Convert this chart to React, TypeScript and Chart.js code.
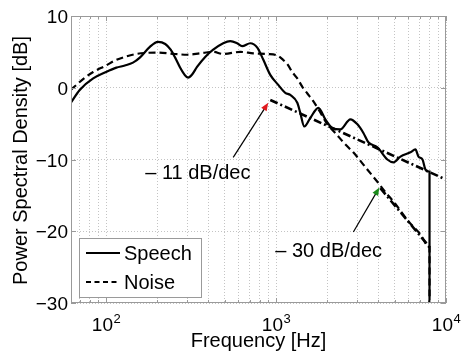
import { useEffect, useRef } from "react";
import { Chart, registerables } from "chart.js";

Chart.register(...registerables);

// Power spectral density of a speech signal and of the noise, in dB versus Hz
const speechFreq = [
  62, 70, 84, 100, 115, 129, 144, 158, 181, 202, 223, 240, 255, 273, 290, 304, 320, 343, 383, 427,
  489, 538, 591, 632, 705, 776, 842, 925, 1031, 1134, 1213, 1334, 1389, 1467, 1592, 1774, 1950,
  2143, 2388, 2738, 3013, 3267, 3494, 3947, 4518, 4908, 5397, 6180, 6607, 6889, 7273, 7568, 8000,
  8000,
];
const speechDb = [
  -2.1, -0.3, 1.3, 2.2, 2.8, 3.1, 3.5, 4.2, 5.7, 6.4, 6.1, 5.3, 4.2, 2.8, 1.8, 1.4, 1.8, 2.9, 4.3,
  5.3, 6.2, 6.5, 6.2, 5.8, 6.2, 5.6, 3.9, 1.8, 0.4, -0.7, -1.0, -2.1, -3.5, -5.4, -4.2, -2.8, -4.4,
  -5.6, -5.8, -4.4, -5.1, -6.3, -7.6, -8.3, -10.0, -10.4, -9.6, -9.0, -8.6, -9.6, -10.0, -11.4,
  -11.7, -40,
];

const noiseFreq = [
  62, 75, 84, 100, 113, 129, 150, 200, 255, 300, 358, 427, 489, 616, 735, 886, 1016, 1099, 1165,
  1253, 1334, 1431, 1529, 1637, 1830, 2005, 2232, 2490, 2738, 2848, 3444, 3947, 4283, 5000, 6000,
  7000, 8000, 8000,
];
const noiseDb = [
  -0.3, 1.4, 2.2, 3.1, 3.8, 4.3, 4.7, 4.9, 4.7, 4.6, 4.8, 5.0, 4.7, 5.0, 4.8, 4.7, 4.5, 3.9, 3.3,
  2.1, 1.3, 0.1, -0.8, -1.7, -3.5, -5.1, -6.3, -7.6, -8.6, -9.0, -11.4, -13.1, -14.2, -16.1, -18.6,
  -20.3, -22.2, -40,
];

// Straight-line slope fits
const fitSpeechFreq = [925, 10000];
const fitSpeechDb = [-1.7, -12.8];
const fitNoiseFreq = [4110, 8000];
const fitNoiseDb = [-14.0, -22.2];

const seriesNames = ["Speech", "Noise"];
const slopeLabels = ["– 11 dB/dec", "– 30 dB/dec"];

const xMin = 62.2;
const xMax = 10000;
const xGridFreqs = [
  70, 80, 90, 100, 200, 300, 400, 500, 600, 700, 800, 900, 1000, 2000, 3000, 4000, 5000, 6000,
  7000, 8000, 9000, 10000,
];
const xLabelExponents = [2, 3, 4];
const yTicks = [-30, -20, -10, 0, 10];

const FONT = '"Liberation Sans", Arial, Helvetica, sans-serif';
const FRAME = "#9a9a9a";

const toPoints = (xs: number[], ys: number[]) => xs.map((x, i) => ({ x, y: ys[i] }));

function drawArrow(
  ctx: CanvasRenderingContext2D,
  x0: number,
  y0: number,
  x1: number,
  y1: number,
  headColor: string
) {
  const ang = Math.atan2(y1 - y0, x1 - x0);
  const len = 8;
  const half = 3.2;
  ctx.save();
  ctx.strokeStyle = "#000";
  ctx.lineWidth = 1.2;
  ctx.setLineDash([]);
  ctx.beginPath();
  ctx.moveTo(x0, y0);
  ctx.lineTo(x1 - Math.cos(ang) * len * 0.6, y1 - Math.sin(ang) * len * 0.6);
  ctx.stroke();
  const bx = x1 - Math.cos(ang) * len;
  const by = y1 - Math.sin(ang) * len;
  ctx.fillStyle = headColor;
  ctx.beginPath();
  ctx.moveTo(x1, y1);
  ctx.lineTo(bx + Math.sin(ang) * half, by - Math.cos(ang) * half);
  ctx.lineTo(bx - Math.sin(ang) * half, by + Math.cos(ang) * half);
  ctx.closePath();
  ctx.fill();
  ctx.restore();
}

const decorations = {
  id: "psdDecorations",
  afterDraw(chart: any) {
    const ctx: CanvasRenderingContext2D = chart.ctx;
    const a = chart.chartArea;
    const xs = chart.scales.x;
    const ys = chart.scales.y;
    ctx.save();

    // axes frame
    ctx.setLineDash([]);
    ctx.strokeStyle = FRAME;
    ctx.lineWidth = 1;
    ctx.strokeRect(a.left + 0.5, a.top + 0.5, a.right - a.left - 1, a.bottom - a.top - 1);

    // inward tick marks
    ctx.beginPath();
    for (const v of yTicks) {
      const y = Math.round(ys.getPixelForValue(v)) + 0.5;
      ctx.moveTo(a.left, y);
      ctx.lineTo(a.left + 5, y);
      ctx.moveTo(a.right, y);
      ctx.lineTo(a.right - 5, y);
    }
    for (const f of xGridFreqs) {
      const x = Math.round(xs.getPixelForValue(f)) + 0.5;
      const major = [100, 1000, 10000].includes(f);
      const l = major ? 5 : 3;
      ctx.moveTo(x, a.bottom);
      ctx.lineTo(x, a.bottom - l);
      ctx.moveTo(x, a.top);
      ctx.lineTo(x, a.top + l);
    }
    ctx.stroke();

    // y tick labels
    ctx.fillStyle = "#000";
    ctx.font = `19px ${FONT}`;
    ctx.textAlign = "right";
    ctx.textBaseline = "middle";
    for (const v of yTicks) {
      const label = v < 0 ? `\u2212${Math.abs(v)}` : `${v}`;
      ctx.fillText(label, a.left - 3, ys.getPixelForValue(v) + 2);
    }

    // x tick labels: 10 with a superscript exponent
    ctx.textAlign = "left";
    ctx.textBaseline = "alphabetic";
    for (const e of xLabelExponents) {
      const gx = xs.getPixelForValue(Math.pow(10, e));
      ctx.font = `19px ${FONT}`;
      const w1 = ctx.measureText("10").width;
      ctx.font = `13px ${FONT}`;
      const w2 = ctx.measureText(`${e}`).width;
      const sx = gx - (w1 + w2) / 2;
      const base = a.bottom + 28;
      ctx.font = `19px ${FONT}`;
      ctx.fillText("10", sx, base);
      ctx.font = `13px ${FONT}`;
      ctx.fillText(`${e}`, sx + w1 + 0.5, base - 8);
    }

    // axis titles
    ctx.font = `20px ${FONT}`;
    ctx.textAlign = "center";
    ctx.textBaseline = "alphabetic";
    ctx.fillText("Frequency [Hz]", (a.left + a.right) / 2, a.bottom + 44);
    ctx.save();
    ctx.translate(27, (a.top + a.bottom) / 2 + 1);
    ctx.rotate(-Math.PI / 2);
    ctx.fillText("Power Spectral Density [dB]", 0, 0);
    ctx.restore();

    // slope annotations
    const px = (f: number) => xs.getPixelForValue(f);
    const py = (d: number) => ys.getPixelForValue(d);
    drawArrow(ctx, px(560), py(-9.7), px(900), py(-2.1), "#e0191e");
    drawArrow(ctx, px(2851), py(-20.1), px(4055), py(-13.9), "#1a8a1a");
    ctx.fillStyle = "#000";
    ctx.font = `20px ${FONT}`;
    ctx.textAlign = "left";
    ctx.textBaseline = "middle";
    ctx.fillText(slopeLabels[0], px(170), py(-11.9));
    ctx.fillText(slopeLabels[1], px(990), py(-22.8));

    // legend
    const lx = a.left + 8;
    const ly = a.bottom - 65;
    const lw = 122;
    const lh = 59;
    ctx.fillStyle = "#fff";
    ctx.fillRect(lx, ly, lw, lh);
    ctx.strokeStyle = FRAME;
    ctx.lineWidth = 1;
    ctx.setLineDash([]);
    ctx.strokeRect(lx + 0.5, ly + 0.5, lw, lh);
    const rows = [ly + 15, ly + 44];
    ctx.strokeStyle = "#000";
    ctx.lineWidth = 2.2;
    ctx.beginPath();
    ctx.moveTo(lx + 7, rows[0]);
    ctx.lineTo(lx + 41, rows[0]);
    ctx.stroke();
    ctx.setLineDash([5, 3.5]);
    ctx.beginPath();
    ctx.moveTo(lx + 7, rows[1]);
    ctx.lineTo(lx + 41, rows[1]);
    ctx.stroke();
    ctx.setLineDash([]);
    ctx.fillStyle = "#000";
    ctx.font = `20px ${FONT}`;
    ctx.textAlign = "left";
    ctx.textBaseline = "middle";
    ctx.fillText(seriesNames[0], lx + 45, rows[0] + 1);
    ctx.fillText(seriesNames[1], lx + 45, rows[1] + 1);

    ctx.restore();
  },
};

export default function App() {
  const canvasRef = useRef<HTMLCanvasElement | null>(null);

  useEffect(() => {
    const canvas = canvasRef.current;
    if (!canvas) return;
    const chart = new Chart(canvas, {
      type: "scatter",
      data: {
        datasets: [
          {
            label: "fit speech",
            data: toPoints(fitSpeechFreq, fitSpeechDb),
            showLine: true,
            borderColor: "#000",
            borderWidth: 2.6,
            borderDash: [8, 3, 2, 3],
            pointRadius: 0,
          },
          {
            label: "fit noise",
            data: toPoints(fitNoiseFreq, fitNoiseDb),
            showLine: true,
            borderColor: "#000",
            borderWidth: 2.6,
            borderDash: [8, 3, 2, 3],
            pointRadius: 0,
          },
          {
            label: seriesNames[1],
            data: toPoints(noiseFreq, noiseDb),
            showLine: true,
            borderColor: "#000",
            borderWidth: 2.2,
            borderDash: [7, 4],
            pointRadius: 0,
            tension: 0.3,
            cubicInterpolationMode: "monotone",
          },
          {
            label: seriesNames[0],
            data: toPoints(speechFreq, speechDb),
            showLine: true,
            borderColor: "#000",
            borderWidth: 2.2,
            pointRadius: 0,
            tension: 0.3,
            cubicInterpolationMode: "monotone",
          },
        ],
      },
      options: {
        animation: false,
        responsive: false,
        devicePixelRatio: 1,
        layout: { padding: { left: 71, right: 15, top: 16, bottom: 53 } },
        plugins: {
          legend: { display: false },
          tooltip: { enabled: false },
        },
        scales: {
          x: {
            type: "logarithmic",
            min: xMin,
            max: xMax,
            afterBuildTicks: (s: any) => {
              s.ticks = xGridFreqs.map((v) => ({ value: v }));
            },
            afterFit: (s: any) => {
              s.height = 0;
            },
            ticks: { display: false },
            grid: { color: "#c4c4c4", lineWidth: 1, drawTicks: false },
            border: { display: false, dash: [1, 2] },
          },
          y: {
            type: "linear",
            min: -30,
            max: 10,
            afterBuildTicks: (s: any) => {
              s.ticks = yTicks.map((v) => ({ value: v }));
            },
            afterFit: (s: any) => {
              s.width = 0;
            },
            ticks: { display: false },
            grid: { color: "#c4c4c4", lineWidth: 1, drawTicks: false },
            border: { display: false, dash: [1, 2] },
          },
        },
      } as any,
      plugins: [decorations],
    });
    return () => chart.destroy();
  }, []);

  return (
    <div style={{ position: "absolute", left: 0, top: 0, width: 461, height: 356, background: "#fff" }}>
      <canvas ref={canvasRef} width={461} height={356} style={{ display: "block" }} />
    </div>
  );
}
